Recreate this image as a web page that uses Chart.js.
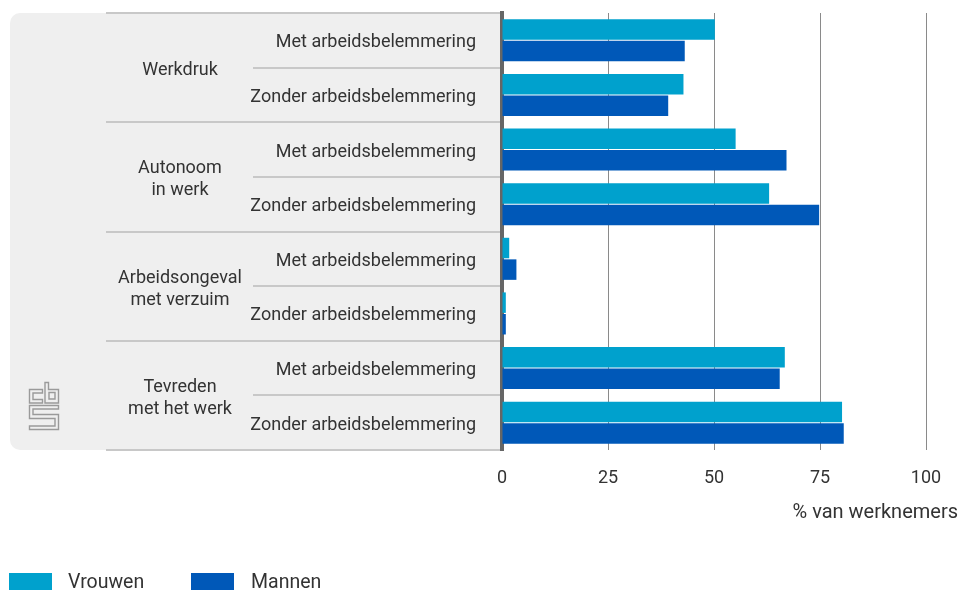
<!DOCTYPE html>
<html>
<head>
<meta charset="utf-8">
<script src="https://cdn.jsdelivr.net/npm/chart.js@4.4.0/dist/chart.umd.min.js"></script>
<style>
html,body{margin:0;padding:0;background:#fff;}
#wrap{width:959px;height:590px;position:relative;}
</style>
</head>
<body>
<div id="wrap"><canvas id="c" width="959" height="590"></canvas></div>
<script>
// ---- data ----
const subLabels = [
  'Met arbeidsbelemmering','Zonder arbeidsbelemmering',
  'Met arbeidsbelemmering','Zonder arbeidsbelemmering',
  'Met arbeidsbelemmering','Zonder arbeidsbelemmering',
  'Met arbeidsbelemmering','Zonder arbeidsbelemmering'
];
const groupLabels = [
  ['Werkdruk'],
  ['Autonoom','in werk'],
  ['Arbeidsongeval','met verzuim'],
  ['Tevreden','met het werk']
];
const vrouwen = [50.2, 42.8, 55.1, 63.0, 1.7, 0.9, 66.7, 80.2];
const mannen  = [43.1, 39.2, 67.1, 74.8, 3.4, 0.9, 65.5, 80.6];
const xTicks = [0, 25, 50, 75, 100];
const xTitle = '% van werknemers';

const FONT = 'Roboto';
const TXT = '#333333';
const C_V = '#00a1cd';
const C_M = '#0058b8';

const panelPlugin = {
  id: 'panel',
  beforeDraw(chart) {
    const ctx = chart.ctx;
    const y = chart.scales.y;
    const ca = chart.chartArea;
    const n = subLabels.length;
    const rowH = (ca.bottom - ca.top) / n;
    ctx.save();
    // grey panel
    ctx.fillStyle = '#efefef';
    const px = 10, py = ca.top, pw = ca.left - px + 2, ph = ca.bottom - ca.top;
    const r = 10;
    ctx.beginPath();
    ctx.moveTo(px + r, py);
    ctx.lineTo(px + pw, py);
    ctx.lineTo(px + pw, py + ph);
    ctx.lineTo(px + r, py + ph);
    ctx.arcTo(px, py + ph, px, py + ph - r, r);
    ctx.lineTo(px, py + r);
    ctx.arcTo(px, py, px + r, py, r);
    ctx.closePath();
    ctx.fill();
    // separators
    ctx.strokeStyle = '#c8c8c8';
    ctx.lineWidth = 2;
    for (let i = 0; i <= n; i++) {
      const yy = Math.round(ca.top + i * rowH);
      const x0 = (i % 2 === 0) ? 106 : 253;
      ctx.beginPath();
      ctx.moveTo(x0, yy);
      ctx.lineTo(ca.left, yy);
      ctx.stroke();
    }
    // group labels
    ctx.fillStyle = TXT;
    ctx.font = '18px ' + FONT;
    ctx.textAlign = 'center';
    ctx.textBaseline = 'middle';
    const lh = 22;
    groupLabels.forEach((lines, g) => {
      const cy = (y.getPixelForValue(g * 2) + y.getPixelForValue(g * 2 + 1)) / 2 + 3;
      lines.forEach((t, k) => {
        ctx.fillText(t, 180, cy + (k - (lines.length - 1) / 2) * lh);
      });
    });
    // logo
    ctx.strokeStyle = '#9a9a9a';
    ctx.lineWidth = 1.4;
    const poly = pts => { ctx.beginPath(); ctx.moveTo(pts[0][0], pts[0][1]); for (let i = 1; i < pts.length; i++) ctx.lineTo(pts[i][0], pts[i][1]); ctx.closePath(); ctx.stroke(); };
    poly([[29.5,389.5],[42.5,389.5],[42.5,393],[33,393],[33,399.5],[42.5,399.5],[42.5,403],[29.5,403]]);
    poly([[45,382.5],[48.5,382.5],[48.5,389.5],[58.5,389.5],[58.5,403],[45,403]]);
    poly([[49,392.5],[55,392.5],[55,399],[49,399]]);
    poly([[29.5,405.5],[58.5,405.5],[58.5,409],[33,409],[33,414.5],[58.5,414.5],[58.5,429.5],[29.5,429.5],[29.5,426],[55,426],[55,418.5],[29.5,418.5]]);
    ctx.restore();
  },
  afterDraw(chart) {
    const ctx = chart.ctx;
    ctx.save();
    // axis title
    ctx.fillStyle = TXT;
    ctx.font = '20px ' + FONT;
    ctx.textAlign = 'right';
    ctx.textBaseline = 'middle';
    ctx.fillText(xTitle, 958, 513);
    // legend
    ctx.font = '19.5px ' + FONT;
    ctx.textAlign = 'left';
    const pos = [[9, 68], [191, 251]];
    chart.data.datasets.forEach((ds, i) => {
      ctx.fillStyle = ds.backgroundColor;
      ctx.fillRect(pos[i][0], 573, 43, 17);
      ctx.fillStyle = TXT;
      ctx.fillText(ds.label, pos[i][1], 583.5);
    });
    ctx.restore();
  }
};

new Chart(document.getElementById('c'), {
  type: 'bar',
  data: {
    labels: subLabels,
    datasets: [
      { label: 'Vrouwen', data: vrouwen, backgroundColor: C_V, borderWidth: 0 },
      { label: 'Mannen', data: mannen, backgroundColor: C_M, borderWidth: 0 }
    ]
  },
  options: {
    indexAxis: 'y',
    responsive: false,
    animation: false,
    devicePixelRatio: 1,
    categoryPercentage: 0.79,
    barPercentage: 0.95,
    layout: { padding: { top: 13, right: 33, bottom: 50, left: 0 } },
    plugins: {
      legend: { display: false },
      tooltip: { enabled: false }
    },
    scales: {
      y: {
        z: 1,
        afterFit(s) { s.width = 502; s.paddingTop = 0; s.paddingBottom = 0; },
        grid: { display: false, drawTicks: false },
        border: { display: true, color: '#666666', width: 4 },
        ticks: { color: TXT, font: { family: FONT, size: 18 }, padding: 26, labelOffset: 2.5, autoSkip: false }
      },
      x: {
        min: 0, max: 100,
        afterFit(s) { s.height = 90; s.paddingLeft = 0; s.paddingRight = 0; },
        afterBuildTicks(s) { s.ticks = xTicks.map(v => ({ value: v })); },
        grid: { display: true, color: '#8a8a8a', lineWidth: 1, drawTicks: false },
        border: { display: false },
        ticks: { color: TXT, font: { family: FONT, size: 18 }, padding: 18 },
        title: { display: false }
      }
    }
  },
  plugins: [panelPlugin]
});
</script>
</body>
</html>
